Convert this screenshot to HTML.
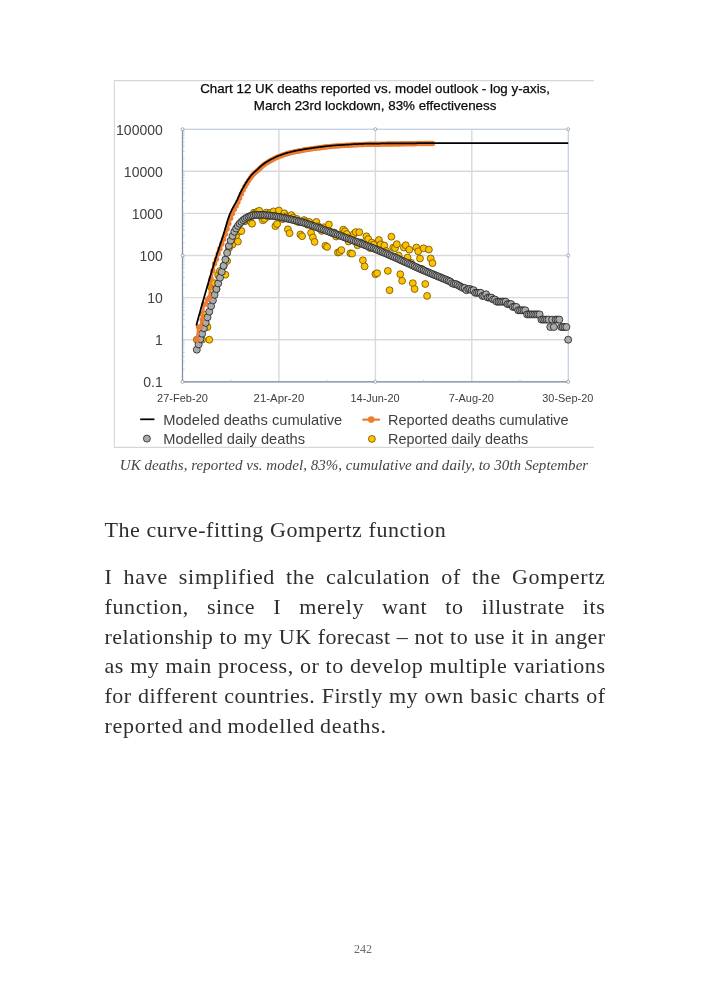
<!DOCTYPE html>
<html lang="en"><head><meta charset="utf-8"><title>Page 242</title>
<style>
html,body{margin:0;padding:0;background:#fff}
body{width:709px;height:992px;position:relative;overflow:hidden;font-family:"Liberation Serif",serif;color:#333}
.cap{position:absolute;left:119.8px;top:454.6px;font-style:italic;font-size:15px;line-height:20px;white-space:nowrap;color:#444;letter-spacing:0.02px}
.h{position:absolute;left:104.5px;top:515.4px;font-size:22px;line-height:30px;white-space:nowrap;letter-spacing:0.57px;color:#2e2e2e}
.p{position:absolute;left:104.5px;top:561.8px;width:501px;font-size:22px;line-height:29.9px;letter-spacing:0.4px;color:#2e2e2e}
.p div{white-space:nowrap;text-align:justify;text-align-last:justify;height:29.9px}
.p div.l{text-align:left;text-align-last:left;letter-spacing:0.7px;word-spacing:-1.1px}
.pn{position:absolute;left:353.9px;top:941px;font-size:12px;line-height:16px;color:#6a6a6a}
</style></head><body>
<svg width="709" height="500" viewBox="0 0 709 500" style="position:absolute;left:0;top:0" font-family="'Liberation Sans', sans-serif">
<path d="M594 80.6H114.4V447.4H594" fill="none" stroke="#d6d6d6" stroke-width="1.1"/>
<g stroke="#d9d9d9" stroke-width="1.4">
<line x1="182.5" y1="339.7" x2="568.2" y2="339.7"/>
<line x1="182.5" y1="297.6" x2="568.2" y2="297.6"/>
<line x1="182.5" y1="255.5" x2="568.2" y2="255.5"/>
<line x1="182.5" y1="213.4" x2="568.2" y2="213.4"/>
<line x1="182.5" y1="171.3" x2="568.2" y2="171.3"/>
<line x1="278.9" y1="129.2" x2="278.9" y2="381.8"/>
<line x1="375.4" y1="129.2" x2="375.4" y2="381.8"/>
<line x1="471.8" y1="129.2" x2="471.8" y2="381.8"/>
</g>
<rect x="182.5" y="129.2" width="385.7" height="252.6" fill="none" stroke="#a9bcd8" stroke-width="0.9"/>
<g stroke="#8291a8" stroke-width="1.3"><line x1="182.5" y1="129.2" x2="182.5" y2="381.8"/><line x1="182.5" y1="381.8" x2="568.2" y2="381.8"/></g>
<g stroke="#a3afc2" stroke-width="0.6">
<line x1="182.5" y1="369.1" x2="184.7" y2="369.1"/>
<line x1="182.5" y1="361.7" x2="184.7" y2="361.7"/>
<line x1="182.5" y1="356.5" x2="184.7" y2="356.5"/>
<line x1="182.5" y1="352.4" x2="184.7" y2="352.4"/>
<line x1="182.5" y1="349.0" x2="184.7" y2="349.0"/>
<line x1="182.5" y1="346.2" x2="184.7" y2="346.2"/>
<line x1="182.5" y1="343.8" x2="184.7" y2="343.8"/>
<line x1="182.5" y1="341.6" x2="184.7" y2="341.6"/>
<line x1="182.5" y1="327.0" x2="184.7" y2="327.0"/>
<line x1="182.5" y1="319.6" x2="184.7" y2="319.6"/>
<line x1="182.5" y1="314.4" x2="184.7" y2="314.4"/>
<line x1="182.5" y1="310.3" x2="184.7" y2="310.3"/>
<line x1="182.5" y1="306.9" x2="184.7" y2="306.9"/>
<line x1="182.5" y1="304.1" x2="184.7" y2="304.1"/>
<line x1="182.5" y1="301.7" x2="184.7" y2="301.7"/>
<line x1="182.5" y1="299.5" x2="184.7" y2="299.5"/>
<line x1="182.5" y1="284.9" x2="184.7" y2="284.9"/>
<line x1="182.5" y1="277.5" x2="184.7" y2="277.5"/>
<line x1="182.5" y1="272.3" x2="184.7" y2="272.3"/>
<line x1="182.5" y1="268.2" x2="184.7" y2="268.2"/>
<line x1="182.5" y1="264.8" x2="184.7" y2="264.8"/>
<line x1="182.5" y1="262.0" x2="184.7" y2="262.0"/>
<line x1="182.5" y1="259.6" x2="184.7" y2="259.6"/>
<line x1="182.5" y1="257.4" x2="184.7" y2="257.4"/>
<line x1="182.5" y1="242.8" x2="184.7" y2="242.8"/>
<line x1="182.5" y1="235.4" x2="184.7" y2="235.4"/>
<line x1="182.5" y1="230.2" x2="184.7" y2="230.2"/>
<line x1="182.5" y1="226.1" x2="184.7" y2="226.1"/>
<line x1="182.5" y1="222.7" x2="184.7" y2="222.7"/>
<line x1="182.5" y1="219.9" x2="184.7" y2="219.9"/>
<line x1="182.5" y1="217.5" x2="184.7" y2="217.5"/>
<line x1="182.5" y1="215.3" x2="184.7" y2="215.3"/>
<line x1="182.5" y1="200.7" x2="184.7" y2="200.7"/>
<line x1="182.5" y1="193.3" x2="184.7" y2="193.3"/>
<line x1="182.5" y1="188.1" x2="184.7" y2="188.1"/>
<line x1="182.5" y1="184.0" x2="184.7" y2="184.0"/>
<line x1="182.5" y1="180.6" x2="184.7" y2="180.6"/>
<line x1="182.5" y1="177.8" x2="184.7" y2="177.8"/>
<line x1="182.5" y1="175.4" x2="184.7" y2="175.4"/>
<line x1="182.5" y1="173.2" x2="184.7" y2="173.2"/>
<line x1="182.5" y1="158.6" x2="184.7" y2="158.6"/>
<line x1="182.5" y1="151.2" x2="184.7" y2="151.2"/>
<line x1="182.5" y1="146.0" x2="184.7" y2="146.0"/>
<line x1="182.5" y1="141.9" x2="184.7" y2="141.9"/>
<line x1="182.5" y1="138.5" x2="184.7" y2="138.5"/>
<line x1="182.5" y1="135.7" x2="184.7" y2="135.7"/>
<line x1="182.5" y1="133.3" x2="184.7" y2="133.3"/>
<line x1="182.5" y1="131.1" x2="184.7" y2="131.1"/>
<line x1="230.7" y1="379.6" x2="230.7" y2="381.8"/>
<line x1="327.1" y1="379.6" x2="327.1" y2="381.8"/>
<line x1="423.6" y1="379.6" x2="423.6" y2="381.8"/>
<line x1="520.0" y1="379.6" x2="520.0" y2="381.8"/>
</g>
<g>
<circle cx="196.8" cy="339.7" r="3.45" fill="#ffc000" stroke="#6b5200" stroke-width="0.8"/>
<circle cx="198.6" cy="339.7" r="3.45" fill="#ffc000" stroke="#6b5200" stroke-width="0.8"/>
<circle cx="202.1" cy="339.7" r="3.45" fill="#ffc000" stroke="#6b5200" stroke-width="0.8"/>
<circle cx="203.9" cy="314.4" r="3.45" fill="#ffc000" stroke="#6b5200" stroke-width="0.8"/>
<circle cx="207.5" cy="327.0" r="3.45" fill="#ffc000" stroke="#6b5200" stroke-width="0.8"/>
<circle cx="209.3" cy="339.7" r="3.45" fill="#ffc000" stroke="#6b5200" stroke-width="0.8"/>
<circle cx="211.1" cy="286.9" r="3.45" fill="#ffc000" stroke="#6b5200" stroke-width="0.8"/>
<circle cx="212.9" cy="290.2" r="3.45" fill="#ffc000" stroke="#6b5200" stroke-width="0.8"/>
<circle cx="214.6" cy="283.2" r="3.45" fill="#ffc000" stroke="#6b5200" stroke-width="0.8"/>
<circle cx="216.4" cy="289.0" r="3.45" fill="#ffc000" stroke="#6b5200" stroke-width="0.8"/>
<circle cx="218.2" cy="275.2" r="3.45" fill="#ffc000" stroke="#6b5200" stroke-width="0.8"/>
<circle cx="220.0" cy="270.9" r="3.45" fill="#ffc000" stroke="#6b5200" stroke-width="0.8"/>
<circle cx="221.8" cy="274.2" r="3.45" fill="#ffc000" stroke="#6b5200" stroke-width="0.8"/>
<circle cx="223.6" cy="266.1" r="3.45" fill="#ffc000" stroke="#6b5200" stroke-width="0.8"/>
<circle cx="225.4" cy="274.7" r="3.45" fill="#ffc000" stroke="#6b5200" stroke-width="0.8"/>
<circle cx="227.1" cy="261.0" r="3.45" fill="#ffc000" stroke="#6b5200" stroke-width="0.8"/>
<circle cx="228.9" cy="248.2" r="3.45" fill="#ffc000" stroke="#6b5200" stroke-width="0.8"/>
<circle cx="230.7" cy="244.2" r="3.45" fill="#ffc000" stroke="#6b5200" stroke-width="0.8"/>
<circle cx="232.5" cy="244.5" r="3.45" fill="#ffc000" stroke="#6b5200" stroke-width="0.8"/>
<circle cx="234.3" cy="236.4" r="3.45" fill="#ffc000" stroke="#6b5200" stroke-width="0.8"/>
<circle cx="236.1" cy="235.8" r="3.45" fill="#ffc000" stroke="#6b5200" stroke-width="0.8"/>
<circle cx="237.9" cy="241.6" r="3.45" fill="#ffc000" stroke="#6b5200" stroke-width="0.8"/>
<circle cx="239.6" cy="231.4" r="3.45" fill="#ffc000" stroke="#6b5200" stroke-width="0.8"/>
<circle cx="241.4" cy="231.0" r="3.45" fill="#ffc000" stroke="#6b5200" stroke-width="0.8"/>
<circle cx="243.2" cy="220.7" r="3.45" fill="#ffc000" stroke="#6b5200" stroke-width="0.8"/>
<circle cx="245.0" cy="221.2" r="3.45" fill="#ffc000" stroke="#6b5200" stroke-width="0.8"/>
<circle cx="246.8" cy="219.6" r="3.45" fill="#ffc000" stroke="#6b5200" stroke-width="0.8"/>
<circle cx="248.6" cy="218.4" r="3.45" fill="#ffc000" stroke="#6b5200" stroke-width="0.8"/>
<circle cx="250.4" cy="221.4" r="3.45" fill="#ffc000" stroke="#6b5200" stroke-width="0.8"/>
<circle cx="252.1" cy="223.7" r="3.45" fill="#ffc000" stroke="#6b5200" stroke-width="0.8"/>
<circle cx="253.9" cy="212.7" r="3.45" fill="#ffc000" stroke="#6b5200" stroke-width="0.8"/>
<circle cx="255.7" cy="212.8" r="3.45" fill="#ffc000" stroke="#6b5200" stroke-width="0.8"/>
<circle cx="257.5" cy="211.6" r="3.45" fill="#ffc000" stroke="#6b5200" stroke-width="0.8"/>
<circle cx="259.3" cy="210.8" r="3.45" fill="#ffc000" stroke="#6b5200" stroke-width="0.8"/>
<circle cx="261.1" cy="216.6" r="3.45" fill="#ffc000" stroke="#6b5200" stroke-width="0.8"/>
<circle cx="262.9" cy="220.3" r="3.45" fill="#ffc000" stroke="#6b5200" stroke-width="0.8"/>
<circle cx="264.6" cy="218.8" r="3.45" fill="#ffc000" stroke="#6b5200" stroke-width="0.8"/>
<circle cx="266.4" cy="212.6" r="3.45" fill="#ffc000" stroke="#6b5200" stroke-width="0.8"/>
<circle cx="268.2" cy="216.5" r="3.45" fill="#ffc000" stroke="#6b5200" stroke-width="0.8"/>
<circle cx="270.0" cy="212.9" r="3.45" fill="#ffc000" stroke="#6b5200" stroke-width="0.8"/>
<circle cx="271.8" cy="214.6" r="3.45" fill="#ffc000" stroke="#6b5200" stroke-width="0.8"/>
<circle cx="273.6" cy="211.4" r="3.45" fill="#ffc000" stroke="#6b5200" stroke-width="0.8"/>
<circle cx="275.4" cy="226.1" r="3.45" fill="#ffc000" stroke="#6b5200" stroke-width="0.8"/>
<circle cx="277.1" cy="224.0" r="3.45" fill="#ffc000" stroke="#6b5200" stroke-width="0.8"/>
<circle cx="278.9" cy="210.5" r="3.45" fill="#ffc000" stroke="#6b5200" stroke-width="0.8"/>
<circle cx="280.7" cy="216.7" r="3.45" fill="#ffc000" stroke="#6b5200" stroke-width="0.8"/>
<circle cx="282.5" cy="219.2" r="3.45" fill="#ffc000" stroke="#6b5200" stroke-width="0.8"/>
<circle cx="284.3" cy="213.3" r="3.45" fill="#ffc000" stroke="#6b5200" stroke-width="0.8"/>
<circle cx="286.1" cy="216.5" r="3.45" fill="#ffc000" stroke="#6b5200" stroke-width="0.8"/>
<circle cx="287.9" cy="229.3" r="3.45" fill="#ffc000" stroke="#6b5200" stroke-width="0.8"/>
<circle cx="289.6" cy="233.2" r="3.45" fill="#ffc000" stroke="#6b5200" stroke-width="0.8"/>
<circle cx="291.4" cy="215.1" r="3.45" fill="#ffc000" stroke="#6b5200" stroke-width="0.8"/>
<circle cx="293.2" cy="217.6" r="3.45" fill="#ffc000" stroke="#6b5200" stroke-width="0.8"/>
<circle cx="295.0" cy="220.6" r="3.45" fill="#ffc000" stroke="#6b5200" stroke-width="0.8"/>
<circle cx="296.8" cy="218.9" r="3.45" fill="#ffc000" stroke="#6b5200" stroke-width="0.8"/>
<circle cx="298.6" cy="222.1" r="3.45" fill="#ffc000" stroke="#6b5200" stroke-width="0.8"/>
<circle cx="300.4" cy="234.5" r="3.45" fill="#ffc000" stroke="#6b5200" stroke-width="0.8"/>
<circle cx="302.1" cy="236.2" r="3.45" fill="#ffc000" stroke="#6b5200" stroke-width="0.8"/>
<circle cx="303.9" cy="220.1" r="3.45" fill="#ffc000" stroke="#6b5200" stroke-width="0.8"/>
<circle cx="305.7" cy="221.3" r="3.45" fill="#ffc000" stroke="#6b5200" stroke-width="0.8"/>
<circle cx="307.5" cy="224.7" r="3.45" fill="#ffc000" stroke="#6b5200" stroke-width="0.8"/>
<circle cx="309.3" cy="222.0" r="3.45" fill="#ffc000" stroke="#6b5200" stroke-width="0.8"/>
<circle cx="311.1" cy="232.8" r="3.45" fill="#ffc000" stroke="#6b5200" stroke-width="0.8"/>
<circle cx="312.9" cy="237.4" r="3.45" fill="#ffc000" stroke="#6b5200" stroke-width="0.8"/>
<circle cx="314.6" cy="241.9" r="3.45" fill="#ffc000" stroke="#6b5200" stroke-width="0.8"/>
<circle cx="316.4" cy="221.9" r="3.45" fill="#ffc000" stroke="#6b5200" stroke-width="0.8"/>
<circle cx="318.2" cy="226.3" r="3.45" fill="#ffc000" stroke="#6b5200" stroke-width="0.8"/>
<circle cx="320.0" cy="228.9" r="3.45" fill="#ffc000" stroke="#6b5200" stroke-width="0.8"/>
<circle cx="321.8" cy="230.9" r="3.45" fill="#ffc000" stroke="#6b5200" stroke-width="0.8"/>
<circle cx="323.6" cy="227.3" r="3.45" fill="#ffc000" stroke="#6b5200" stroke-width="0.8"/>
<circle cx="325.4" cy="245.8" r="3.45" fill="#ffc000" stroke="#6b5200" stroke-width="0.8"/>
<circle cx="327.1" cy="246.9" r="3.45" fill="#ffc000" stroke="#6b5200" stroke-width="0.8"/>
<circle cx="328.9" cy="224.5" r="3.45" fill="#ffc000" stroke="#6b5200" stroke-width="0.8"/>
<circle cx="330.7" cy="231.9" r="3.45" fill="#ffc000" stroke="#6b5200" stroke-width="0.8"/>
<circle cx="332.5" cy="233.2" r="3.45" fill="#ffc000" stroke="#6b5200" stroke-width="0.8"/>
<circle cx="334.3" cy="232.5" r="3.45" fill="#ffc000" stroke="#6b5200" stroke-width="0.8"/>
<circle cx="336.1" cy="236.5" r="3.45" fill="#ffc000" stroke="#6b5200" stroke-width="0.8"/>
<circle cx="337.9" cy="252.5" r="3.45" fill="#ffc000" stroke="#6b5200" stroke-width="0.8"/>
<circle cx="339.6" cy="252.0" r="3.45" fill="#ffc000" stroke="#6b5200" stroke-width="0.8"/>
<circle cx="341.4" cy="250.1" r="3.45" fill="#ffc000" stroke="#6b5200" stroke-width="0.8"/>
<circle cx="343.2" cy="229.6" r="3.45" fill="#ffc000" stroke="#6b5200" stroke-width="0.8"/>
<circle cx="345.0" cy="231.2" r="3.45" fill="#ffc000" stroke="#6b5200" stroke-width="0.8"/>
<circle cx="346.8" cy="234.0" r="3.45" fill="#ffc000" stroke="#6b5200" stroke-width="0.8"/>
<circle cx="348.6" cy="241.5" r="3.45" fill="#ffc000" stroke="#6b5200" stroke-width="0.8"/>
<circle cx="350.4" cy="253.3" r="3.45" fill="#ffc000" stroke="#6b5200" stroke-width="0.8"/>
<circle cx="352.1" cy="253.6" r="3.45" fill="#ffc000" stroke="#6b5200" stroke-width="0.8"/>
<circle cx="353.9" cy="234.0" r="3.45" fill="#ffc000" stroke="#6b5200" stroke-width="0.8"/>
<circle cx="355.7" cy="232.1" r="3.45" fill="#ffc000" stroke="#6b5200" stroke-width="0.8"/>
<circle cx="357.5" cy="245.2" r="3.45" fill="#ffc000" stroke="#6b5200" stroke-width="0.8"/>
<circle cx="359.3" cy="232.2" r="3.45" fill="#ffc000" stroke="#6b5200" stroke-width="0.8"/>
<circle cx="361.1" cy="242.5" r="3.45" fill="#ffc000" stroke="#6b5200" stroke-width="0.8"/>
<circle cx="362.9" cy="260.3" r="3.45" fill="#ffc000" stroke="#6b5200" stroke-width="0.8"/>
<circle cx="364.6" cy="266.4" r="3.45" fill="#ffc000" stroke="#6b5200" stroke-width="0.8"/>
<circle cx="366.4" cy="236.3" r="3.45" fill="#ffc000" stroke="#6b5200" stroke-width="0.8"/>
<circle cx="368.2" cy="239.1" r="3.45" fill="#ffc000" stroke="#6b5200" stroke-width="0.8"/>
<circle cx="370.0" cy="248.0" r="3.45" fill="#ffc000" stroke="#6b5200" stroke-width="0.8"/>
<circle cx="371.8" cy="242.6" r="3.45" fill="#ffc000" stroke="#6b5200" stroke-width="0.8"/>
<circle cx="373.6" cy="244.7" r="3.45" fill="#ffc000" stroke="#6b5200" stroke-width="0.8"/>
<circle cx="375.4" cy="274.2" r="3.45" fill="#ffc000" stroke="#6b5200" stroke-width="0.8"/>
<circle cx="377.1" cy="273.2" r="3.45" fill="#ffc000" stroke="#6b5200" stroke-width="0.8"/>
<circle cx="378.9" cy="240.0" r="3.45" fill="#ffc000" stroke="#6b5200" stroke-width="0.8"/>
<circle cx="380.7" cy="244.4" r="3.45" fill="#ffc000" stroke="#6b5200" stroke-width="0.8"/>
<circle cx="382.5" cy="250.0" r="3.45" fill="#ffc000" stroke="#6b5200" stroke-width="0.8"/>
<circle cx="384.3" cy="245.5" r="3.45" fill="#ffc000" stroke="#6b5200" stroke-width="0.8"/>
<circle cx="386.1" cy="251.0" r="3.45" fill="#ffc000" stroke="#6b5200" stroke-width="0.8"/>
<circle cx="387.8" cy="270.9" r="3.45" fill="#ffc000" stroke="#6b5200" stroke-width="0.8"/>
<circle cx="389.6" cy="290.2" r="3.45" fill="#ffc000" stroke="#6b5200" stroke-width="0.8"/>
<circle cx="391.4" cy="236.7" r="3.45" fill="#ffc000" stroke="#6b5200" stroke-width="0.8"/>
<circle cx="393.2" cy="247.6" r="3.45" fill="#ffc000" stroke="#6b5200" stroke-width="0.8"/>
<circle cx="395.0" cy="248.2" r="3.45" fill="#ffc000" stroke="#6b5200" stroke-width="0.8"/>
<circle cx="396.8" cy="244.2" r="3.45" fill="#ffc000" stroke="#6b5200" stroke-width="0.8"/>
<circle cx="398.6" cy="255.5" r="3.45" fill="#ffc000" stroke="#6b5200" stroke-width="0.8"/>
<circle cx="400.3" cy="274.2" r="3.45" fill="#ffc000" stroke="#6b5200" stroke-width="0.8"/>
<circle cx="402.1" cy="280.8" r="3.45" fill="#ffc000" stroke="#6b5200" stroke-width="0.8"/>
<circle cx="403.9" cy="247.5" r="3.45" fill="#ffc000" stroke="#6b5200" stroke-width="0.8"/>
<circle cx="405.7" cy="245.2" r="3.45" fill="#ffc000" stroke="#6b5200" stroke-width="0.8"/>
<circle cx="407.5" cy="257.6" r="3.45" fill="#ffc000" stroke="#6b5200" stroke-width="0.8"/>
<circle cx="409.3" cy="249.7" r="3.45" fill="#ffc000" stroke="#6b5200" stroke-width="0.8"/>
<circle cx="411.1" cy="262.8" r="3.45" fill="#ffc000" stroke="#6b5200" stroke-width="0.8"/>
<circle cx="412.8" cy="283.2" r="3.45" fill="#ffc000" stroke="#6b5200" stroke-width="0.8"/>
<circle cx="414.6" cy="289.0" r="3.45" fill="#ffc000" stroke="#6b5200" stroke-width="0.8"/>
<circle cx="416.4" cy="247.5" r="3.45" fill="#ffc000" stroke="#6b5200" stroke-width="0.8"/>
<circle cx="418.2" cy="251.3" r="3.45" fill="#ffc000" stroke="#6b5200" stroke-width="0.8"/>
<circle cx="420.0" cy="258.5" r="3.45" fill="#ffc000" stroke="#6b5200" stroke-width="0.8"/>
<circle cx="421.8" cy="268.9" r="3.45" fill="#ffc000" stroke="#6b5200" stroke-width="0.8"/>
<circle cx="423.6" cy="248.3" r="3.45" fill="#ffc000" stroke="#6b5200" stroke-width="0.8"/>
<circle cx="425.3" cy="284.0" r="3.45" fill="#ffc000" stroke="#6b5200" stroke-width="0.8"/>
<circle cx="427.1" cy="295.9" r="3.45" fill="#ffc000" stroke="#6b5200" stroke-width="0.8"/>
<circle cx="428.9" cy="249.6" r="3.45" fill="#ffc000" stroke="#6b5200" stroke-width="0.8"/>
<circle cx="430.7" cy="258.5" r="3.45" fill="#ffc000" stroke="#6b5200" stroke-width="0.8"/>
<circle cx="432.5" cy="263.1" r="3.45" fill="#ffc000" stroke="#6b5200" stroke-width="0.8"/>
</g>
<g>
<circle cx="196.8" cy="349.7" r="3.5" fill="#ababab" stroke="#141414" stroke-width="0.75"/>
<circle cx="198.6" cy="344.4" r="3.5" fill="#ababab" stroke="#141414" stroke-width="0.75"/>
<circle cx="200.4" cy="339.1" r="3.5" fill="#ababab" stroke="#141414" stroke-width="0.75"/>
<circle cx="202.1" cy="333.7" r="3.5" fill="#ababab" stroke="#141414" stroke-width="0.75"/>
<circle cx="203.9" cy="328.3" r="3.5" fill="#ababab" stroke="#141414" stroke-width="0.75"/>
<circle cx="205.7" cy="322.8" r="3.5" fill="#ababab" stroke="#141414" stroke-width="0.75"/>
<circle cx="207.5" cy="317.3" r="3.5" fill="#ababab" stroke="#141414" stroke-width="0.75"/>
<circle cx="209.3" cy="311.7" r="3.5" fill="#ababab" stroke="#141414" stroke-width="0.75"/>
<circle cx="211.1" cy="306.1" r="3.5" fill="#ababab" stroke="#141414" stroke-width="0.75"/>
<circle cx="212.9" cy="300.4" r="3.5" fill="#ababab" stroke="#141414" stroke-width="0.75"/>
<circle cx="214.6" cy="294.8" r="3.5" fill="#ababab" stroke="#141414" stroke-width="0.75"/>
<circle cx="216.4" cy="289.1" r="3.5" fill="#ababab" stroke="#141414" stroke-width="0.75"/>
<circle cx="218.2" cy="283.4" r="3.5" fill="#ababab" stroke="#141414" stroke-width="0.75"/>
<circle cx="220.0" cy="277.7" r="3.5" fill="#ababab" stroke="#141414" stroke-width="0.75"/>
<circle cx="221.8" cy="271.8" r="3.5" fill="#ababab" stroke="#141414" stroke-width="0.75"/>
<circle cx="223.6" cy="265.8" r="3.5" fill="#ababab" stroke="#141414" stroke-width="0.75"/>
<circle cx="225.4" cy="259.6" r="3.5" fill="#ababab" stroke="#141414" stroke-width="0.75"/>
<circle cx="227.1" cy="252.9" r="3.5" fill="#ababab" stroke="#141414" stroke-width="0.75"/>
<circle cx="228.9" cy="245.9" r="3.5" fill="#ababab" stroke="#141414" stroke-width="0.75"/>
<circle cx="230.7" cy="240.6" r="3.5" fill="#ababab" stroke="#141414" stroke-width="0.75"/>
<circle cx="232.5" cy="235.9" r="3.5" fill="#ababab" stroke="#141414" stroke-width="0.75"/>
<circle cx="234.3" cy="231.7" r="3.5" fill="#ababab" stroke="#141414" stroke-width="0.75"/>
<circle cx="236.1" cy="228.5" r="3.5" fill="#ababab" stroke="#141414" stroke-width="0.75"/>
<circle cx="237.9" cy="225.9" r="3.5" fill="#ababab" stroke="#141414" stroke-width="0.75"/>
<circle cx="239.6" cy="223.7" r="3.5" fill="#ababab" stroke="#141414" stroke-width="0.75"/>
<circle cx="241.4" cy="221.8" r="3.5" fill="#ababab" stroke="#141414" stroke-width="0.75"/>
<circle cx="243.2" cy="220.1" r="3.5" fill="#ababab" stroke="#141414" stroke-width="0.75"/>
<circle cx="245.0" cy="218.8" r="3.5" fill="#ababab" stroke="#141414" stroke-width="0.75"/>
<circle cx="246.8" cy="217.6" r="3.5" fill="#ababab" stroke="#141414" stroke-width="0.75"/>
<circle cx="248.6" cy="216.7" r="3.5" fill="#ababab" stroke="#141414" stroke-width="0.75"/>
<circle cx="250.4" cy="216.1" r="3.5" fill="#ababab" stroke="#141414" stroke-width="0.75"/>
<circle cx="252.1" cy="215.5" r="3.5" fill="#ababab" stroke="#141414" stroke-width="0.75"/>
<circle cx="253.9" cy="215.2" r="3.5" fill="#ababab" stroke="#141414" stroke-width="0.75"/>
<circle cx="255.7" cy="215.0" r="3.5" fill="#ababab" stroke="#141414" stroke-width="0.75"/>
<circle cx="257.5" cy="214.9" r="3.5" fill="#ababab" stroke="#141414" stroke-width="0.75"/>
<circle cx="259.3" cy="214.9" r="3.5" fill="#ababab" stroke="#141414" stroke-width="0.75"/>
<circle cx="261.1" cy="214.9" r="3.5" fill="#ababab" stroke="#141414" stroke-width="0.75"/>
<circle cx="262.9" cy="214.9" r="3.5" fill="#ababab" stroke="#141414" stroke-width="0.75"/>
<circle cx="264.6" cy="215.0" r="3.5" fill="#ababab" stroke="#141414" stroke-width="0.75"/>
<circle cx="266.4" cy="215.2" r="3.5" fill="#ababab" stroke="#141414" stroke-width="0.75"/>
<circle cx="268.2" cy="215.4" r="3.5" fill="#ababab" stroke="#141414" stroke-width="0.75"/>
<circle cx="270.0" cy="215.6" r="3.5" fill="#ababab" stroke="#141414" stroke-width="0.75"/>
<circle cx="271.8" cy="215.8" r="3.5" fill="#ababab" stroke="#141414" stroke-width="0.75"/>
<circle cx="273.6" cy="216.0" r="3.5" fill="#ababab" stroke="#141414" stroke-width="0.75"/>
<circle cx="275.4" cy="216.3" r="3.5" fill="#ababab" stroke="#141414" stroke-width="0.75"/>
<circle cx="277.1" cy="216.6" r="3.5" fill="#ababab" stroke="#141414" stroke-width="0.75"/>
<circle cx="278.9" cy="216.9" r="3.5" fill="#ababab" stroke="#141414" stroke-width="0.75"/>
<circle cx="280.7" cy="217.2" r="3.5" fill="#ababab" stroke="#141414" stroke-width="0.75"/>
<circle cx="282.5" cy="217.6" r="3.5" fill="#ababab" stroke="#141414" stroke-width="0.75"/>
<circle cx="284.3" cy="217.9" r="3.5" fill="#ababab" stroke="#141414" stroke-width="0.75"/>
<circle cx="286.1" cy="218.3" r="3.5" fill="#ababab" stroke="#141414" stroke-width="0.75"/>
<circle cx="287.9" cy="218.7" r="3.5" fill="#ababab" stroke="#141414" stroke-width="0.75"/>
<circle cx="289.6" cy="219.1" r="3.5" fill="#ababab" stroke="#141414" stroke-width="0.75"/>
<circle cx="291.4" cy="219.5" r="3.5" fill="#ababab" stroke="#141414" stroke-width="0.75"/>
<circle cx="293.2" cy="219.9" r="3.5" fill="#ababab" stroke="#141414" stroke-width="0.75"/>
<circle cx="295.0" cy="220.4" r="3.5" fill="#ababab" stroke="#141414" stroke-width="0.75"/>
<circle cx="296.8" cy="220.8" r="3.5" fill="#ababab" stroke="#141414" stroke-width="0.75"/>
<circle cx="298.6" cy="221.3" r="3.5" fill="#ababab" stroke="#141414" stroke-width="0.75"/>
<circle cx="300.4" cy="221.8" r="3.5" fill="#ababab" stroke="#141414" stroke-width="0.75"/>
<circle cx="302.1" cy="222.3" r="3.5" fill="#ababab" stroke="#141414" stroke-width="0.75"/>
<circle cx="303.9" cy="222.8" r="3.5" fill="#ababab" stroke="#141414" stroke-width="0.75"/>
<circle cx="305.7" cy="223.4" r="3.5" fill="#ababab" stroke="#141414" stroke-width="0.75"/>
<circle cx="307.5" cy="223.9" r="3.5" fill="#ababab" stroke="#141414" stroke-width="0.75"/>
<circle cx="309.3" cy="224.5" r="3.5" fill="#ababab" stroke="#141414" stroke-width="0.75"/>
<circle cx="311.1" cy="225.2" r="3.5" fill="#ababab" stroke="#141414" stroke-width="0.75"/>
<circle cx="312.9" cy="225.8" r="3.5" fill="#ababab" stroke="#141414" stroke-width="0.75"/>
<circle cx="314.6" cy="226.4" r="3.5" fill="#ababab" stroke="#141414" stroke-width="0.75"/>
<circle cx="316.4" cy="227.1" r="3.5" fill="#ababab" stroke="#141414" stroke-width="0.75"/>
<circle cx="318.2" cy="227.7" r="3.5" fill="#ababab" stroke="#141414" stroke-width="0.75"/>
<circle cx="320.0" cy="228.4" r="3.5" fill="#ababab" stroke="#141414" stroke-width="0.75"/>
<circle cx="321.8" cy="229.0" r="3.5" fill="#ababab" stroke="#141414" stroke-width="0.75"/>
<circle cx="323.6" cy="229.7" r="3.5" fill="#ababab" stroke="#141414" stroke-width="0.75"/>
<circle cx="325.4" cy="230.3" r="3.5" fill="#ababab" stroke="#141414" stroke-width="0.75"/>
<circle cx="327.1" cy="231.0" r="3.5" fill="#ababab" stroke="#141414" stroke-width="0.75"/>
<circle cx="328.9" cy="231.6" r="3.5" fill="#ababab" stroke="#141414" stroke-width="0.75"/>
<circle cx="330.7" cy="232.3" r="3.5" fill="#ababab" stroke="#141414" stroke-width="0.75"/>
<circle cx="332.5" cy="232.9" r="3.5" fill="#ababab" stroke="#141414" stroke-width="0.75"/>
<circle cx="334.3" cy="233.5" r="3.5" fill="#ababab" stroke="#141414" stroke-width="0.75"/>
<circle cx="336.1" cy="234.2" r="3.5" fill="#ababab" stroke="#141414" stroke-width="0.75"/>
<circle cx="337.9" cy="234.8" r="3.5" fill="#ababab" stroke="#141414" stroke-width="0.75"/>
<circle cx="339.6" cy="235.5" r="3.5" fill="#ababab" stroke="#141414" stroke-width="0.75"/>
<circle cx="341.4" cy="236.1" r="3.5" fill="#ababab" stroke="#141414" stroke-width="0.75"/>
<circle cx="343.2" cy="236.8" r="3.5" fill="#ababab" stroke="#141414" stroke-width="0.75"/>
<circle cx="345.0" cy="237.5" r="3.5" fill="#ababab" stroke="#141414" stroke-width="0.75"/>
<circle cx="346.8" cy="238.1" r="3.5" fill="#ababab" stroke="#141414" stroke-width="0.75"/>
<circle cx="348.6" cy="238.8" r="3.5" fill="#ababab" stroke="#141414" stroke-width="0.75"/>
<circle cx="350.4" cy="239.4" r="3.5" fill="#ababab" stroke="#141414" stroke-width="0.75"/>
<circle cx="352.1" cy="240.1" r="3.5" fill="#ababab" stroke="#141414" stroke-width="0.75"/>
<circle cx="353.9" cy="240.8" r="3.5" fill="#ababab" stroke="#141414" stroke-width="0.75"/>
<circle cx="355.7" cy="241.5" r="3.5" fill="#ababab" stroke="#141414" stroke-width="0.75"/>
<circle cx="357.5" cy="242.1" r="3.5" fill="#ababab" stroke="#141414" stroke-width="0.75"/>
<circle cx="359.3" cy="242.8" r="3.5" fill="#ababab" stroke="#141414" stroke-width="0.75"/>
<circle cx="361.1" cy="243.5" r="3.5" fill="#ababab" stroke="#141414" stroke-width="0.75"/>
<circle cx="362.9" cy="244.2" r="3.5" fill="#ababab" stroke="#141414" stroke-width="0.75"/>
<circle cx="364.6" cy="244.9" r="3.5" fill="#ababab" stroke="#141414" stroke-width="0.75"/>
<circle cx="366.4" cy="245.6" r="3.5" fill="#ababab" stroke="#141414" stroke-width="0.75"/>
<circle cx="368.2" cy="246.3" r="3.5" fill="#ababab" stroke="#141414" stroke-width="0.75"/>
<circle cx="370.0" cy="247.0" r="3.5" fill="#ababab" stroke="#141414" stroke-width="0.75"/>
<circle cx="371.8" cy="247.7" r="3.5" fill="#ababab" stroke="#141414" stroke-width="0.75"/>
<circle cx="373.6" cy="248.4" r="3.5" fill="#ababab" stroke="#141414" stroke-width="0.75"/>
<circle cx="375.4" cy="249.1" r="3.5" fill="#ababab" stroke="#141414" stroke-width="0.75"/>
<circle cx="377.1" cy="249.8" r="3.5" fill="#ababab" stroke="#141414" stroke-width="0.75"/>
<circle cx="378.9" cy="250.6" r="3.5" fill="#ababab" stroke="#141414" stroke-width="0.75"/>
<circle cx="380.7" cy="251.3" r="3.5" fill="#ababab" stroke="#141414" stroke-width="0.75"/>
<circle cx="382.5" cy="252.0" r="3.5" fill="#ababab" stroke="#141414" stroke-width="0.75"/>
<circle cx="384.3" cy="252.8" r="3.5" fill="#ababab" stroke="#141414" stroke-width="0.75"/>
<circle cx="386.1" cy="253.5" r="3.5" fill="#ababab" stroke="#141414" stroke-width="0.75"/>
<circle cx="387.8" cy="254.3" r="3.5" fill="#ababab" stroke="#141414" stroke-width="0.75"/>
<circle cx="389.6" cy="255.1" r="3.5" fill="#ababab" stroke="#141414" stroke-width="0.75"/>
<circle cx="391.4" cy="255.9" r="3.5" fill="#ababab" stroke="#141414" stroke-width="0.75"/>
<circle cx="393.2" cy="256.7" r="3.5" fill="#ababab" stroke="#141414" stroke-width="0.75"/>
<circle cx="395.0" cy="257.4" r="3.5" fill="#ababab" stroke="#141414" stroke-width="0.75"/>
<circle cx="396.8" cy="258.2" r="3.5" fill="#ababab" stroke="#141414" stroke-width="0.75"/>
<circle cx="398.6" cy="259.0" r="3.5" fill="#ababab" stroke="#141414" stroke-width="0.75"/>
<circle cx="400.3" cy="259.9" r="3.5" fill="#ababab" stroke="#141414" stroke-width="0.75"/>
<circle cx="402.1" cy="260.7" r="3.5" fill="#ababab" stroke="#141414" stroke-width="0.75"/>
<circle cx="403.9" cy="261.5" r="3.5" fill="#ababab" stroke="#141414" stroke-width="0.75"/>
<circle cx="405.7" cy="262.3" r="3.5" fill="#ababab" stroke="#141414" stroke-width="0.75"/>
<circle cx="407.5" cy="263.1" r="3.5" fill="#ababab" stroke="#141414" stroke-width="0.75"/>
<circle cx="409.3" cy="263.9" r="3.5" fill="#ababab" stroke="#141414" stroke-width="0.75"/>
<circle cx="411.1" cy="264.7" r="3.5" fill="#ababab" stroke="#141414" stroke-width="0.75"/>
<circle cx="412.8" cy="265.5" r="3.5" fill="#ababab" stroke="#141414" stroke-width="0.75"/>
<circle cx="414.6" cy="266.4" r="3.5" fill="#ababab" stroke="#141414" stroke-width="0.75"/>
<circle cx="416.4" cy="267.2" r="3.5" fill="#ababab" stroke="#141414" stroke-width="0.75"/>
<circle cx="418.2" cy="268.0" r="3.5" fill="#ababab" stroke="#141414" stroke-width="0.75"/>
<circle cx="420.0" cy="268.8" r="3.5" fill="#ababab" stroke="#141414" stroke-width="0.75"/>
<circle cx="421.8" cy="269.6" r="3.5" fill="#ababab" stroke="#141414" stroke-width="0.75"/>
<circle cx="423.6" cy="270.3" r="3.5" fill="#ababab" stroke="#141414" stroke-width="0.75"/>
<circle cx="425.3" cy="271.1" r="3.5" fill="#ababab" stroke="#141414" stroke-width="0.75"/>
<circle cx="427.1" cy="271.9" r="3.5" fill="#ababab" stroke="#141414" stroke-width="0.75"/>
<circle cx="428.9" cy="272.6" r="3.5" fill="#ababab" stroke="#141414" stroke-width="0.75"/>
<circle cx="430.7" cy="273.4" r="3.5" fill="#ababab" stroke="#141414" stroke-width="0.75"/>
<circle cx="432.5" cy="274.1" r="3.5" fill="#ababab" stroke="#141414" stroke-width="0.75"/>
<circle cx="434.3" cy="274.9" r="3.5" fill="#ababab" stroke="#141414" stroke-width="0.75"/>
<circle cx="436.1" cy="275.6" r="3.5" fill="#ababab" stroke="#141414" stroke-width="0.75"/>
<circle cx="437.8" cy="276.3" r="3.5" fill="#ababab" stroke="#141414" stroke-width="0.75"/>
<circle cx="439.6" cy="277.0" r="3.5" fill="#ababab" stroke="#141414" stroke-width="0.75"/>
<circle cx="441.4" cy="277.8" r="3.5" fill="#ababab" stroke="#141414" stroke-width="0.75"/>
<circle cx="443.2" cy="278.5" r="3.5" fill="#ababab" stroke="#141414" stroke-width="0.75"/>
<circle cx="445.0" cy="279.3" r="3.5" fill="#ababab" stroke="#141414" stroke-width="0.75"/>
<circle cx="446.8" cy="280.0" r="3.5" fill="#ababab" stroke="#141414" stroke-width="0.75"/>
<circle cx="448.6" cy="280.8" r="3.5" fill="#ababab" stroke="#141414" stroke-width="0.75"/>
<circle cx="450.3" cy="281.6" r="3.5" fill="#ababab" stroke="#141414" stroke-width="0.75"/>
<circle cx="452.1" cy="283.2" r="3.5" fill="#ababab" stroke="#141414" stroke-width="0.75"/>
<circle cx="453.9" cy="284.0" r="3.5" fill="#ababab" stroke="#141414" stroke-width="0.75"/>
<circle cx="455.7" cy="284.0" r="3.5" fill="#ababab" stroke="#141414" stroke-width="0.75"/>
<circle cx="457.5" cy="284.9" r="3.5" fill="#ababab" stroke="#141414" stroke-width="0.75"/>
<circle cx="459.3" cy="285.9" r="3.5" fill="#ababab" stroke="#141414" stroke-width="0.75"/>
<circle cx="461.1" cy="286.9" r="3.5" fill="#ababab" stroke="#141414" stroke-width="0.75"/>
<circle cx="462.8" cy="287.9" r="3.5" fill="#ababab" stroke="#141414" stroke-width="0.75"/>
<circle cx="464.6" cy="287.9" r="3.5" fill="#ababab" stroke="#141414" stroke-width="0.75"/>
<circle cx="466.4" cy="290.2" r="3.5" fill="#ababab" stroke="#141414" stroke-width="0.75"/>
<circle cx="468.2" cy="289.0" r="3.5" fill="#ababab" stroke="#141414" stroke-width="0.75"/>
<circle cx="470.0" cy="289.0" r="3.5" fill="#ababab" stroke="#141414" stroke-width="0.75"/>
<circle cx="471.8" cy="290.2" r="3.5" fill="#ababab" stroke="#141414" stroke-width="0.75"/>
<circle cx="473.6" cy="290.2" r="3.5" fill="#ababab" stroke="#141414" stroke-width="0.75"/>
<circle cx="475.3" cy="292.8" r="3.5" fill="#ababab" stroke="#141414" stroke-width="0.75"/>
<circle cx="477.1" cy="292.8" r="3.5" fill="#ababab" stroke="#141414" stroke-width="0.75"/>
<circle cx="478.9" cy="292.8" r="3.5" fill="#ababab" stroke="#141414" stroke-width="0.75"/>
<circle cx="480.7" cy="292.8" r="3.5" fill="#ababab" stroke="#141414" stroke-width="0.75"/>
<circle cx="482.5" cy="295.9" r="3.5" fill="#ababab" stroke="#141414" stroke-width="0.75"/>
<circle cx="484.3" cy="295.9" r="3.5" fill="#ababab" stroke="#141414" stroke-width="0.75"/>
<circle cx="486.1" cy="294.3" r="3.5" fill="#ababab" stroke="#141414" stroke-width="0.75"/>
<circle cx="487.8" cy="297.6" r="3.5" fill="#ababab" stroke="#141414" stroke-width="0.75"/>
<circle cx="489.6" cy="297.6" r="3.5" fill="#ababab" stroke="#141414" stroke-width="0.75"/>
<circle cx="491.4" cy="297.6" r="3.5" fill="#ababab" stroke="#141414" stroke-width="0.75"/>
<circle cx="493.2" cy="299.5" r="3.5" fill="#ababab" stroke="#141414" stroke-width="0.75"/>
<circle cx="495.0" cy="299.5" r="3.5" fill="#ababab" stroke="#141414" stroke-width="0.75"/>
<circle cx="496.8" cy="301.7" r="3.5" fill="#ababab" stroke="#141414" stroke-width="0.75"/>
<circle cx="498.6" cy="301.7" r="3.5" fill="#ababab" stroke="#141414" stroke-width="0.75"/>
<circle cx="500.3" cy="301.7" r="3.5" fill="#ababab" stroke="#141414" stroke-width="0.75"/>
<circle cx="502.1" cy="301.7" r="3.5" fill="#ababab" stroke="#141414" stroke-width="0.75"/>
<circle cx="503.9" cy="301.7" r="3.5" fill="#ababab" stroke="#141414" stroke-width="0.75"/>
<circle cx="505.7" cy="301.7" r="3.5" fill="#ababab" stroke="#141414" stroke-width="0.75"/>
<circle cx="507.5" cy="304.1" r="3.5" fill="#ababab" stroke="#141414" stroke-width="0.75"/>
<circle cx="509.3" cy="304.1" r="3.5" fill="#ababab" stroke="#141414" stroke-width="0.75"/>
<circle cx="511.1" cy="304.1" r="3.5" fill="#ababab" stroke="#141414" stroke-width="0.75"/>
<circle cx="512.8" cy="306.9" r="3.5" fill="#ababab" stroke="#141414" stroke-width="0.75"/>
<circle cx="514.6" cy="306.9" r="3.5" fill="#ababab" stroke="#141414" stroke-width="0.75"/>
<circle cx="516.4" cy="306.9" r="3.5" fill="#ababab" stroke="#141414" stroke-width="0.75"/>
<circle cx="518.2" cy="310.3" r="3.5" fill="#ababab" stroke="#141414" stroke-width="0.75"/>
<circle cx="520.0" cy="310.3" r="3.5" fill="#ababab" stroke="#141414" stroke-width="0.75"/>
<circle cx="521.8" cy="310.3" r="3.5" fill="#ababab" stroke="#141414" stroke-width="0.75"/>
<circle cx="523.6" cy="310.3" r="3.5" fill="#ababab" stroke="#141414" stroke-width="0.75"/>
<circle cx="525.3" cy="310.3" r="3.5" fill="#ababab" stroke="#141414" stroke-width="0.75"/>
<circle cx="527.1" cy="314.4" r="3.5" fill="#ababab" stroke="#141414" stroke-width="0.75"/>
<circle cx="528.9" cy="314.4" r="3.5" fill="#ababab" stroke="#141414" stroke-width="0.75"/>
<circle cx="530.7" cy="314.4" r="3.5" fill="#ababab" stroke="#141414" stroke-width="0.75"/>
<circle cx="532.5" cy="314.4" r="3.5" fill="#ababab" stroke="#141414" stroke-width="0.75"/>
<circle cx="534.3" cy="314.4" r="3.5" fill="#ababab" stroke="#141414" stroke-width="0.75"/>
<circle cx="536.1" cy="314.4" r="3.5" fill="#ababab" stroke="#141414" stroke-width="0.75"/>
<circle cx="537.8" cy="314.4" r="3.5" fill="#ababab" stroke="#141414" stroke-width="0.75"/>
<circle cx="539.6" cy="314.4" r="3.5" fill="#ababab" stroke="#141414" stroke-width="0.75"/>
<circle cx="541.4" cy="319.6" r="3.5" fill="#ababab" stroke="#141414" stroke-width="0.75"/>
<circle cx="543.2" cy="319.6" r="3.5" fill="#ababab" stroke="#141414" stroke-width="0.75"/>
<circle cx="545.0" cy="319.6" r="3.5" fill="#ababab" stroke="#141414" stroke-width="0.75"/>
<circle cx="546.8" cy="319.6" r="3.5" fill="#ababab" stroke="#141414" stroke-width="0.75"/>
<circle cx="548.6" cy="319.6" r="3.5" fill="#ababab" stroke="#141414" stroke-width="0.75"/>
<circle cx="550.3" cy="327.0" r="3.5" fill="#ababab" stroke="#141414" stroke-width="0.75"/>
<circle cx="552.1" cy="319.6" r="3.5" fill="#ababab" stroke="#141414" stroke-width="0.75"/>
<circle cx="553.9" cy="327.0" r="3.5" fill="#ababab" stroke="#141414" stroke-width="0.75"/>
<circle cx="555.7" cy="319.6" r="3.5" fill="#ababab" stroke="#141414" stroke-width="0.75"/>
<circle cx="557.5" cy="319.6" r="3.5" fill="#ababab" stroke="#141414" stroke-width="0.75"/>
<circle cx="559.3" cy="319.6" r="3.5" fill="#ababab" stroke="#141414" stroke-width="0.75"/>
<circle cx="561.1" cy="327.0" r="3.5" fill="#ababab" stroke="#141414" stroke-width="0.75"/>
<circle cx="562.8" cy="327.0" r="3.5" fill="#ababab" stroke="#141414" stroke-width="0.75"/>
<circle cx="564.6" cy="327.0" r="3.5" fill="#ababab" stroke="#141414" stroke-width="0.75"/>
<circle cx="566.4" cy="327.0" r="3.5" fill="#ababab" stroke="#141414" stroke-width="0.75"/>
<circle cx="568.2" cy="339.7" r="3.5" fill="#ababab" stroke="#141414" stroke-width="0.75"/>
</g>
<g>
<polyline points="196.8,339.7 198.6,327.0 200.4,327.0 202.1,319.6 203.9,304.1 205.7,304.1 207.5,299.5 209.3,297.6 211.1,278.8 212.9,270.9 214.6,263.8 216.4,259.2 218.2,253.7 220.0,248.7 221.8,244.0 223.6,239.3 225.4,234.3 227.1,229.0 228.9,223.5 230.7,218.2 232.5,213.4 234.3,209.5 236.1,205.9 237.9,202.3 239.6,198.2 241.4,193.9 243.2,190.1 245.0,186.6 246.8,183.4 248.6,180.6 250.4,178.1 252.1,175.7 253.9,173.7 255.7,172.1 257.5,170.6 259.3,168.9 261.1,167.2 262.9,165.6 264.6,164.3 266.4,163.1 268.2,162.0 270.0,160.9 271.8,159.9 273.6,159.0 275.4,158.1 277.1,157.3 278.9,156.6 280.7,155.9 282.5,155.2 284.3,154.6 286.1,154.0 287.9,153.5 289.6,153.0 291.4,152.5 293.2,152.1 295.0,151.7 296.8,151.4 298.6,151.0 300.4,150.7 302.1,150.4 303.9,150.0 305.7,149.7 307.5,149.4 309.3,149.1 311.1,148.9 312.9,148.6 314.6,148.4 316.4,148.1 318.2,147.9 320.0,147.7 321.8,147.5 323.6,147.2 325.4,147.0 327.1,146.8 328.9,146.6 330.7,146.5 332.5,146.3 334.3,146.1 336.1,146.0 337.9,145.9 339.6,145.8 341.4,145.6 343.2,145.5 345.0,145.4 346.8,145.3 348.6,145.2 350.4,145.1 352.1,145.0 353.9,144.9 355.7,144.8 357.5,144.7 359.3,144.6 361.1,144.6 362.9,144.5 364.6,144.4 366.4,144.4 368.2,144.3 370.0,144.3 371.8,144.2 373.6,144.2 375.4,144.2 377.1,144.2 378.9,144.2 380.7,144.1 382.5,144.1 384.3,144.1 386.1,144.1 387.8,144.0 389.6,144.0 391.4,144.0 393.2,144.0 395.0,143.9 396.8,143.9 398.6,143.9 400.3,143.9 402.1,143.8 403.9,143.8 405.7,143.8 407.5,143.8 409.3,143.7 411.1,143.7 412.8,143.7 414.6,143.7 416.4,143.6 418.2,143.6 420.0,143.6 421.8,143.6 423.6,143.6 425.3,143.5 427.1,143.5 428.9,143.5 430.7,143.5 432.5,143.5" fill="none" stroke="#ed7d31" stroke-width="2.6" stroke-linejoin="round" stroke-linecap="round"/>
<circle cx="196.8" cy="339.7" r="2.7" fill="#ed7d31"/>
<circle cx="198.6" cy="327.0" r="2.7" fill="#ed7d31"/>
<circle cx="200.4" cy="327.0" r="2.7" fill="#ed7d31"/>
<circle cx="202.1" cy="319.6" r="2.7" fill="#ed7d31"/>
<circle cx="203.9" cy="304.1" r="2.7" fill="#ed7d31"/>
<circle cx="205.7" cy="304.1" r="2.7" fill="#ed7d31"/>
<circle cx="207.5" cy="299.5" r="2.7" fill="#ed7d31"/>
<circle cx="209.3" cy="297.6" r="2.7" fill="#ed7d31"/>
<circle cx="211.1" cy="278.8" r="2.7" fill="#ed7d31"/>
<circle cx="212.9" cy="270.9" r="2.7" fill="#ed7d31"/>
<circle cx="214.6" cy="263.8" r="2.7" fill="#ed7d31"/>
<circle cx="216.4" cy="259.2" r="2.7" fill="#ed7d31"/>
<circle cx="218.2" cy="253.7" r="2.7" fill="#ed7d31"/>
<circle cx="220.0" cy="248.7" r="2.7" fill="#ed7d31"/>
<circle cx="221.8" cy="244.0" r="2.7" fill="#ed7d31"/>
<circle cx="223.6" cy="239.3" r="2.7" fill="#ed7d31"/>
<circle cx="225.4" cy="234.3" r="2.7" fill="#ed7d31"/>
<circle cx="227.1" cy="229.0" r="2.7" fill="#ed7d31"/>
<circle cx="228.9" cy="223.5" r="2.7" fill="#ed7d31"/>
<circle cx="230.7" cy="218.2" r="2.7" fill="#ed7d31"/>
<circle cx="232.5" cy="213.4" r="2.7" fill="#ed7d31"/>
<circle cx="234.3" cy="209.5" r="2.7" fill="#ed7d31"/>
<circle cx="236.1" cy="205.9" r="2.7" fill="#ed7d31"/>
<circle cx="237.9" cy="202.3" r="2.7" fill="#ed7d31"/>
<circle cx="239.6" cy="198.2" r="2.7" fill="#ed7d31"/>
<circle cx="241.4" cy="193.9" r="2.7" fill="#ed7d31"/>
<circle cx="243.2" cy="190.1" r="2.7" fill="#ed7d31"/>
<circle cx="245.0" cy="186.6" r="2.7" fill="#ed7d31"/>
<circle cx="246.8" cy="183.4" r="2.7" fill="#ed7d31"/>
<circle cx="248.6" cy="180.6" r="2.7" fill="#ed7d31"/>
<circle cx="250.4" cy="178.1" r="2.7" fill="#ed7d31"/>
<circle cx="252.1" cy="175.7" r="2.7" fill="#ed7d31"/>
<circle cx="253.9" cy="173.7" r="2.7" fill="#ed7d31"/>
<circle cx="255.7" cy="172.1" r="2.7" fill="#ed7d31"/>
<circle cx="257.5" cy="170.6" r="2.7" fill="#ed7d31"/>
<circle cx="259.3" cy="168.9" r="2.7" fill="#ed7d31"/>
<circle cx="261.1" cy="167.2" r="2.7" fill="#ed7d31"/>
<circle cx="262.9" cy="165.6" r="2.7" fill="#ed7d31"/>
<circle cx="264.6" cy="164.3" r="2.7" fill="#ed7d31"/>
<circle cx="266.4" cy="163.1" r="2.7" fill="#ed7d31"/>
<circle cx="268.2" cy="162.0" r="2.7" fill="#ed7d31"/>
<circle cx="270.0" cy="160.9" r="2.7" fill="#ed7d31"/>
<circle cx="271.8" cy="159.9" r="2.7" fill="#ed7d31"/>
<circle cx="273.6" cy="159.0" r="2.7" fill="#ed7d31"/>
<circle cx="275.4" cy="158.1" r="2.7" fill="#ed7d31"/>
<circle cx="277.1" cy="157.3" r="2.7" fill="#ed7d31"/>
<circle cx="278.9" cy="156.6" r="2.7" fill="#ed7d31"/>
<circle cx="280.7" cy="155.9" r="2.7" fill="#ed7d31"/>
<circle cx="282.5" cy="155.2" r="2.7" fill="#ed7d31"/>
<circle cx="284.3" cy="154.6" r="2.7" fill="#ed7d31"/>
<circle cx="286.1" cy="154.0" r="2.7" fill="#ed7d31"/>
<circle cx="287.9" cy="153.5" r="2.7" fill="#ed7d31"/>
<circle cx="289.6" cy="153.0" r="2.7" fill="#ed7d31"/>
<circle cx="291.4" cy="152.5" r="2.7" fill="#ed7d31"/>
<circle cx="293.2" cy="152.1" r="2.7" fill="#ed7d31"/>
<circle cx="295.0" cy="151.7" r="2.7" fill="#ed7d31"/>
<circle cx="296.8" cy="151.4" r="2.7" fill="#ed7d31"/>
<circle cx="298.6" cy="151.0" r="2.7" fill="#ed7d31"/>
<circle cx="300.4" cy="150.7" r="2.7" fill="#ed7d31"/>
<circle cx="302.1" cy="150.4" r="2.7" fill="#ed7d31"/>
<circle cx="303.9" cy="150.0" r="2.7" fill="#ed7d31"/>
<circle cx="305.7" cy="149.7" r="2.7" fill="#ed7d31"/>
<circle cx="307.5" cy="149.4" r="2.7" fill="#ed7d31"/>
<circle cx="309.3" cy="149.1" r="2.7" fill="#ed7d31"/>
<circle cx="311.1" cy="148.9" r="2.7" fill="#ed7d31"/>
<circle cx="312.9" cy="148.6" r="2.7" fill="#ed7d31"/>
<circle cx="314.6" cy="148.4" r="2.7" fill="#ed7d31"/>
<circle cx="316.4" cy="148.1" r="2.7" fill="#ed7d31"/>
<circle cx="318.2" cy="147.9" r="2.7" fill="#ed7d31"/>
<circle cx="320.0" cy="147.7" r="2.7" fill="#ed7d31"/>
<circle cx="321.8" cy="147.5" r="2.7" fill="#ed7d31"/>
<circle cx="323.6" cy="147.2" r="2.7" fill="#ed7d31"/>
<circle cx="325.4" cy="147.0" r="2.7" fill="#ed7d31"/>
<circle cx="327.1" cy="146.8" r="2.7" fill="#ed7d31"/>
<circle cx="328.9" cy="146.6" r="2.7" fill="#ed7d31"/>
<circle cx="330.7" cy="146.5" r="2.7" fill="#ed7d31"/>
<circle cx="332.5" cy="146.3" r="2.7" fill="#ed7d31"/>
<circle cx="334.3" cy="146.1" r="2.7" fill="#ed7d31"/>
<circle cx="336.1" cy="146.0" r="2.7" fill="#ed7d31"/>
<circle cx="337.9" cy="145.9" r="2.7" fill="#ed7d31"/>
<circle cx="339.6" cy="145.8" r="2.7" fill="#ed7d31"/>
<circle cx="341.4" cy="145.6" r="2.7" fill="#ed7d31"/>
<circle cx="343.2" cy="145.5" r="2.7" fill="#ed7d31"/>
<circle cx="345.0" cy="145.4" r="2.7" fill="#ed7d31"/>
<circle cx="346.8" cy="145.3" r="2.7" fill="#ed7d31"/>
<circle cx="348.6" cy="145.2" r="2.7" fill="#ed7d31"/>
<circle cx="350.4" cy="145.1" r="2.7" fill="#ed7d31"/>
<circle cx="352.1" cy="145.0" r="2.7" fill="#ed7d31"/>
<circle cx="353.9" cy="144.9" r="2.7" fill="#ed7d31"/>
<circle cx="355.7" cy="144.8" r="2.7" fill="#ed7d31"/>
<circle cx="357.5" cy="144.7" r="2.7" fill="#ed7d31"/>
<circle cx="359.3" cy="144.6" r="2.7" fill="#ed7d31"/>
<circle cx="361.1" cy="144.6" r="2.7" fill="#ed7d31"/>
<circle cx="362.9" cy="144.5" r="2.7" fill="#ed7d31"/>
<circle cx="364.6" cy="144.4" r="2.7" fill="#ed7d31"/>
<circle cx="366.4" cy="144.4" r="2.7" fill="#ed7d31"/>
<circle cx="368.2" cy="144.3" r="2.7" fill="#ed7d31"/>
<circle cx="370.0" cy="144.3" r="2.7" fill="#ed7d31"/>
<circle cx="371.8" cy="144.2" r="2.7" fill="#ed7d31"/>
<circle cx="373.6" cy="144.2" r="2.7" fill="#ed7d31"/>
<circle cx="375.4" cy="144.2" r="2.7" fill="#ed7d31"/>
<circle cx="377.1" cy="144.2" r="2.7" fill="#ed7d31"/>
<circle cx="378.9" cy="144.2" r="2.7" fill="#ed7d31"/>
<circle cx="380.7" cy="144.1" r="2.7" fill="#ed7d31"/>
<circle cx="382.5" cy="144.1" r="2.7" fill="#ed7d31"/>
<circle cx="384.3" cy="144.1" r="2.7" fill="#ed7d31"/>
<circle cx="386.1" cy="144.1" r="2.7" fill="#ed7d31"/>
<circle cx="387.8" cy="144.0" r="2.7" fill="#ed7d31"/>
<circle cx="389.6" cy="144.0" r="2.7" fill="#ed7d31"/>
<circle cx="391.4" cy="144.0" r="2.7" fill="#ed7d31"/>
<circle cx="393.2" cy="144.0" r="2.7" fill="#ed7d31"/>
<circle cx="395.0" cy="143.9" r="2.7" fill="#ed7d31"/>
<circle cx="396.8" cy="143.9" r="2.7" fill="#ed7d31"/>
<circle cx="398.6" cy="143.9" r="2.7" fill="#ed7d31"/>
<circle cx="400.3" cy="143.9" r="2.7" fill="#ed7d31"/>
<circle cx="402.1" cy="143.8" r="2.7" fill="#ed7d31"/>
<circle cx="403.9" cy="143.8" r="2.7" fill="#ed7d31"/>
<circle cx="405.7" cy="143.8" r="2.7" fill="#ed7d31"/>
<circle cx="407.5" cy="143.8" r="2.7" fill="#ed7d31"/>
<circle cx="409.3" cy="143.7" r="2.7" fill="#ed7d31"/>
<circle cx="411.1" cy="143.7" r="2.7" fill="#ed7d31"/>
<circle cx="412.8" cy="143.7" r="2.7" fill="#ed7d31"/>
<circle cx="414.6" cy="143.7" r="2.7" fill="#ed7d31"/>
<circle cx="416.4" cy="143.6" r="2.7" fill="#ed7d31"/>
<circle cx="418.2" cy="143.6" r="2.7" fill="#ed7d31"/>
<circle cx="420.0" cy="143.6" r="2.7" fill="#ed7d31"/>
<circle cx="421.8" cy="143.6" r="2.7" fill="#ed7d31"/>
<circle cx="423.6" cy="143.6" r="2.7" fill="#ed7d31"/>
<circle cx="425.3" cy="143.5" r="2.7" fill="#ed7d31"/>
<circle cx="427.1" cy="143.5" r="2.7" fill="#ed7d31"/>
<circle cx="428.9" cy="143.5" r="2.7" fill="#ed7d31"/>
<circle cx="430.7" cy="143.5" r="2.7" fill="#ed7d31"/>
<circle cx="432.5" cy="143.5" r="2.7" fill="#ed7d31"/>
</g>
<polyline points="196.3,325.4 197.3,321.7 198.3,318.1 199.3,314.5 200.3,310.9 201.3,307.3 202.3,303.8 203.3,300.2 204.3,296.8 205.3,293.3 206.3,289.8 207.3,286.3 208.3,282.9 209.3,279.5 210.3,276.0 211.3,272.7 212.3,269.3 213.3,266.0 214.3,262.7 215.3,259.5 216.3,256.3 217.3,253.1 218.3,250.1 219.3,247.1 220.3,244.1 221.3,241.1 222.3,238.1 223.3,235.1 224.3,231.8 225.3,228.4 226.3,225.0 227.3,221.6 228.3,218.4 229.3,215.5 230.3,213.0 231.3,210.8 232.3,208.8 233.3,207.0 234.3,205.2 235.3,203.4 236.3,201.6 237.3,199.6 238.3,197.3 239.3,195.1 240.3,193.0 241.3,191.0 242.3,189.1 243.3,187.3 244.3,185.5 245.3,183.9 246.3,182.3 247.3,180.8 248.3,179.3 249.3,177.9 250.3,176.5 251.3,175.3 252.3,174.1 253.3,173.0 254.3,172.1 255.3,171.3 256.3,170.5 257.3,169.5 258.3,168.6 259.3,167.6 260.3,166.7 261.3,165.8 262.3,164.9 263.3,164.2 264.3,163.5 265.3,162.8 266.3,162.1 267.3,161.5 268.3,160.9 269.3,160.3 270.3,159.8 271.3,159.2 272.3,158.7 273.3,158.2 274.3,157.7 275.3,157.2 276.3,156.8 277.3,156.3 278.3,155.9 279.3,155.5 280.3,155.1 281.3,154.8 282.3,154.4 283.3,154.1 284.3,153.7 285.3,153.4 286.3,153.1 287.3,152.8 288.3,152.5 289.3,152.3 290.3,152.0 291.3,151.8 292.3,151.5 293.3,151.3 294.3,151.1 295.3,150.9 296.3,150.7 297.3,150.5 298.3,150.3 299.3,150.1 300.3,149.9 301.3,149.8 302.3,149.6 303.3,149.4 304.3,149.2 305.3,149.1 306.3,148.9 307.3,148.7 308.3,148.6 309.3,148.4 310.3,148.3 311.3,148.1 312.3,148.0 313.3,147.8 314.3,147.7 315.3,147.6 316.3,147.4 317.3,147.3 318.3,147.2 319.3,147.0 320.3,146.9 321.3,146.8 322.3,146.7 323.3,146.6 324.3,146.4 325.3,146.3 326.3,146.2 327.3,146.1 328.3,146.0 329.3,145.9 330.3,145.8 331.3,145.7 332.3,145.6 333.3,145.5 334.3,145.4 335.3,145.4 336.3,145.3 337.3,145.2 338.3,145.1 339.3,145.1 340.3,145.0 341.3,145.0 342.3,144.9 343.3,144.8 344.3,144.8 345.3,144.7 346.3,144.6 347.3,144.6 348.3,144.5 349.3,144.5 350.3,144.4 351.3,144.3 352.3,144.3 353.3,144.2 354.3,144.2 355.3,144.1 356.3,144.1 357.3,144.0 358.3,144.0 359.3,143.9 360.3,143.9 361.3,143.9 362.3,143.8 363.3,143.8 364.3,143.7 365.3,143.7 366.3,143.7 367.3,143.6 368.3,143.6 369.3,143.6 370.3,143.6 371.3,143.6 372.3,143.5 373.3,143.5 374.3,143.5 375.3,143.5 376.3,143.5 377.3,143.5 378.3,143.5 379.3,143.5 380.3,143.5 381.3,143.4 382.3,143.4 383.3,143.4 384.3,143.4 385.3,143.4 386.3,143.4 387.3,143.4 388.3,143.4 389.3,143.4 390.3,143.4 391.3,143.4 392.3,143.4 393.3,143.4 394.3,143.4 395.3,143.3 396.3,143.3 397.3,143.3 398.3,143.3 399.3,143.3 400.3,143.3 401.3,143.3 402.3,143.3 403.3,143.3 404.3,143.3 405.3,143.3 406.3,143.3 407.3,143.3 408.3,143.3 409.3,143.3 410.3,143.3 411.3,143.3 412.3,143.3 413.3,143.3 414.3,143.3 415.3,143.3 416.3,143.3 417.3,143.2 418.3,143.2 419.3,143.2 420.3,143.2 421.3,143.2 422.3,143.2 423.3,143.2 424.3,143.2 425.3,143.2 426.3,143.2 427.3,143.2 428.3,143.2 429.3,143.2 430.3,143.2 431.3,143.2 432.3,143.2 433.3,143.2 434.3,143.2 435.3,143.2 436.3,143.2 437.3,143.2 438.3,143.2 439.3,143.2 440.3,143.2 441.3,143.2 442.3,143.2 443.3,143.2 444.3,143.2 445.3,143.2 446.3,143.2 447.3,143.2 448.3,143.2 449.3,143.2 450.3,143.2 451.3,143.2 452.3,143.2 453.3,143.2 454.3,143.2 455.3,143.1 456.3,143.1 457.3,143.1 458.3,143.1 459.3,143.1 460.3,143.1 461.3,143.1 462.3,143.1 463.3,143.1 464.3,143.1 465.3,143.1 466.3,143.1 467.3,143.1 468.3,143.1 469.3,143.1 470.3,143.1 471.3,143.1 472.3,143.1 473.3,143.1 474.3,143.1 475.3,143.1 476.3,143.1 477.3,143.1 478.3,143.1 479.3,143.1 480.3,143.1 481.3,143.1 482.3,143.1 483.3,143.1 484.3,143.1 485.3,143.1 486.3,143.1 487.3,143.1 488.3,143.1 489.3,143.1 490.3,143.1 491.3,143.1 492.3,143.1 493.3,143.1 494.3,143.1 495.3,143.1 496.3,143.1 497.3,143.1 498.3,143.1 499.3,143.1 500.3,143.1 501.3,143.1 502.3,143.1 503.3,143.1 504.3,143.1 505.3,143.1 506.3,143.1 507.3,143.0 508.3,143.0 509.3,143.0 510.3,143.0 511.3,143.0 512.3,143.0 513.3,143.0 514.3,143.0 515.3,143.0 516.3,143.0 517.3,143.0 518.3,143.0 519.3,143.0 520.3,143.0 521.3,143.0 522.3,143.0 523.3,143.0 524.3,143.0 525.3,143.0 526.3,143.0 527.3,143.0 528.3,143.0 529.3,143.0 530.3,143.0 531.3,143.0 532.3,143.0 533.3,143.0 534.3,143.0 535.3,143.0 536.3,143.0 537.3,143.0 538.3,143.0 539.3,143.0 540.3,143.0 541.3,143.0 542.3,143.0 543.3,143.0 544.3,143.0 545.3,143.0 546.3,143.0 547.3,143.0 548.3,143.0 549.3,143.0 550.3,143.0 551.3,143.0 552.3,143.0 553.3,143.0 554.3,143.0 555.3,143.0 556.3,143.0 557.3,143.0 558.3,143.0 559.3,143.0 560.3,143.0 561.3,143.0 562.3,143.0 563.3,143.0 564.3,143.0 565.3,143.0 566.3,143.0 567.3,143.0 568.2,143.0" fill="none" stroke="#000" stroke-width="1.75" stroke-linejoin="round"/>
<g fill="#fff" stroke="#777" stroke-width="0.6">
<circle cx="182.5" cy="129.2" r="1.5"/><circle cx="375.4" cy="129.2" r="1.5"/><circle cx="568.2" cy="129.2" r="1.5"/>
<circle cx="182.5" cy="255.5" r="1.5"/><circle cx="568.2" cy="255.5" r="1.5"/>
<circle cx="182.5" cy="381.8" r="1.5"/><circle cx="375.4" cy="381.8" r="1.5"/><circle cx="568.2" cy="381.8" r="1.5"/>
</g>
<g font-size="13.3" fill="#0a0a0a" stroke="#0a0a0a" stroke-width="0.25">
<text x="200.2" y="93.3" textLength="349.8" lengthAdjust="spacingAndGlyphs">Chart 12 UK deaths reported vs. model outlook - log y-axis,</text>
<text x="253.8" y="109.8" textLength="242.6" lengthAdjust="spacingAndGlyphs">March 23rd lockdown, 83% effectiveness</text>
</g>
<g font-size="14" fill="#404040">
<text x="162.8" y="387.2" text-anchor="end">0.1</text>
<text x="162.8" y="345.1" text-anchor="end">1</text>
<text x="162.8" y="303.0" text-anchor="end">10</text>
<text x="162.8" y="260.9" text-anchor="end">100</text>
<text x="162.8" y="218.8" text-anchor="end">1000</text>
<text x="162.8" y="176.7" text-anchor="end">10000</text>
<text x="162.8" y="134.6" text-anchor="end">100000</text>
</g>
<g font-size="11.6" fill="#404040">
<text x="157.1" y="401.6" textLength="50.8" lengthAdjust="spacingAndGlyphs">27-Feb-20</text>
<text x="253.6" y="401.6" textLength="50.7" lengthAdjust="spacingAndGlyphs">21-Apr-20</text>
<text x="350.5" y="401.6" textLength="49.1" lengthAdjust="spacingAndGlyphs">14-Jun-20</text>
<text x="448.7" y="401.6" textLength="45.2" lengthAdjust="spacingAndGlyphs">7-Aug-20</text>
<text x="542.3" y="401.6" textLength="51.0" lengthAdjust="spacingAndGlyphs">30-Sep-20</text>
</g>
<g font-size="14.3" fill="#404040">
<line x1="140.2" y1="419.3" x2="154.4" y2="419.3" stroke="#000" stroke-width="1.75"/>
<text x="163.2" y="424.7" textLength="179" lengthAdjust="spacingAndGlyphs">Modeled deaths cumulative</text>
<circle cx="146.9" cy="438.6" r="3.5" fill="#ababab" stroke="#141414" stroke-width="0.75"/>
<text x="163.2" y="443.7" textLength="141.8" lengthAdjust="spacingAndGlyphs">Modelled daily deaths</text>
<line x1="363.4" y1="419.6" x2="378.9" y2="419.6" stroke="#ed7d31" stroke-width="2.4" stroke-linecap="round"/>
<circle cx="371.2" cy="419.6" r="3.3" fill="#ed7d31"/>
<text x="388.1" y="424.7" textLength="180.5" lengthAdjust="spacingAndGlyphs">Reported deaths cumulative</text>
<circle cx="371.9" cy="438.9" r="3.45" fill="#ffc000" stroke="#6b5200" stroke-width="0.8"/>
<text x="388.1" y="443.7" textLength="140" lengthAdjust="spacingAndGlyphs">Reported daily deaths</text>
</g>
</svg>
<div class="cap">UK deaths, reported vs. model, 83%, cumulative and daily, to 30th September</div>
<div class="h">The curve-fitting Gompertz function</div>
<div class="p">
<div style="letter-spacing:0.7px">I have simplified the calculation of the Gompertz</div>
<div style="letter-spacing:0.62px">function, since I merely want to illustrate its</div>
<div>relationship to my UK forecast – not to use it in anger</div>
<div style="letter-spacing:0.53px">as my main process, or to develop multiple variations</div>
<div style="letter-spacing:0.5px">for different countries. Firstly my own basic charts of</div>
<div class="l">reported and modelled deaths.</div>
</div>
<div class="pn">242</div>
</body></html>
